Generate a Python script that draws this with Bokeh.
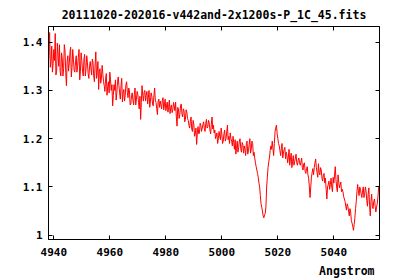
from bokeh.plotting import figure
from bokeh.models import Range1d, FixedTicker, LinearAxis, CustomJSTickFormatter, Title, ColumnDataSource
from bokeh.embed import file_html
from bokeh.resources import INLINE

title_text = "20111020-202016-v442and-2x1200s-P_1C_45.fits"
x_label = "Angstrom"
x_ticks = [4940, 4960, 4980, 5000, 5020, 5040]
y_ticks = [1.0, 1.1, 1.2, 1.3, 1.4]

# flux read at whole/half Angstrom samples (4938.0, 4938.5, ...)
wave_start = 4938.0
wave_step = 0.5
flux = [
    1.352, 1.42, 1.36, 1.338, 1.385, 1.418, 1.34, 1.372, 1.395, 1.33,
    1.368, 1.345, 1.382, 1.31, 1.372, 1.355, 1.39, 1.348, 1.365, 1.338,
    1.372, 1.35, 1.385, 1.34, 1.362, 1.33, 1.375, 1.345, 1.358, 1.325,
    1.36, 1.332, 1.358, 1.318, 1.38, 1.338, 1.302, 1.345, 1.325, 1.335,
    1.31, 1.325, 1.29, 1.318, 1.338, 1.3, 1.268, 1.312, 1.322, 1.295,
    1.328, 1.295, 1.31, 1.276, 1.302, 1.29, 1.318, 1.285, 1.3, 1.272,
    1.295, 1.27, 1.305, 1.282, 1.292, 1.262, 1.24, 1.31, 1.278, 1.3,
    1.29, 1.272, 1.3, 1.278, 1.288, 1.268, 1.305, 1.275, 1.25, 1.282,
    1.278, 1.262, 1.285, 1.27, 1.258, 1.276, 1.265, 1.252, 1.27, 1.26,
    1.268, 1.276, 1.226, 1.262, 1.25, 1.272, 1.245, 1.258, 1.24, 1.255,
    1.238, 1.222, 1.245, 1.215, 1.23, 1.21, 1.188, 1.225, 1.212, 1.228,
    1.222, 1.235, 1.215, 1.24, 1.225, 1.232, 1.21, 1.245, 1.228, 1.218,
    1.205, 1.19, 1.215, 1.198, 1.21, 1.195, 1.218, 1.2, 1.228, 1.205,
    1.212, 1.195, 1.205, 1.178, 1.168, 1.195, 1.182, 1.2, 1.172, 1.188,
    1.185, 1.165, 1.195, 1.175, 1.2, 1.178, 1.19, 1.172, 1.15, 1.135,
    1.12, 1.1, 1.065, 1.05, 1.036, 1.045, 1.1, 1.14, 1.16, 1.185,
    1.195, 1.165, 1.215, 1.228, 1.2, 1.185, 1.165, 1.19, 1.17, 1.182,
    1.172, 1.15, 1.178, 1.158, 1.14, 1.165, 1.152, 1.168, 1.145, 1.16,
    1.145, 1.16, 1.135, 1.15, 1.128, 1.142, 1.118, 1.078, 1.12, 1.138,
    1.14, 1.158, 1.13, 1.148, 1.125, 1.135, 1.112, 1.128, 1.118, 1.075,
    1.105, 1.095, 1.118, 1.09, 1.108, 1.142, 1.1, 1.125, 1.098, 1.11,
    1.095, 1.08, 1.07, 1.052, 1.06, 1.04, 1.048, 1.025, 1.01, 1.035,
    1.07, 1.105, 1.082, 1.095, 1.078, 1.1, 1.085, 1.092, 1.06, 1.098,
    1.04, 1.085, 1.055, 1.075, 1.048, 1.065, 1.1,
]
# flux read at the quarter samples between them (4938.25, 4938.75, ...)
flux_between = [
    1.372, 1.348, 1.392, 1.356, 1.362, 1.332, 1.398, 1.35, 1.34, 1.378,
    1.33, 1.395, 1.338, 1.36, 1.34, 1.378, 1.328, 1.385, 1.342, 1.36,
    1.338, 1.368, 1.322, 1.378, 1.34, 1.365, 1.33, 1.372, 1.335, 1.35,
    1.345, 1.365, 1.33, 1.355, 1.325, 1.36, 1.34, 1.315, 1.352, 1.318,
    1.298, 1.335, 1.308, 1.295, 1.322, 1.312, 1.29, 1.3, 1.28, 1.318,
    1.31, 1.282, 1.325, 1.295, 1.278, 1.312, 1.296, 1.305, 1.27, 1.29,
    1.28, 1.292, 1.27, 1.298, 1.275, 1.288, 1.275, 1.29, 1.296, 1.278,
    1.298, 1.285, 1.265, 1.295, 1.272, 1.29, 1.28, 1.262, 1.278, 1.265,
    1.27, 1.28, 1.26, 1.282, 1.268, 1.255, 1.28, 1.265, 1.254, 1.275,
    1.258, 1.245, 1.265, 1.242, 1.268, 1.252, 1.262, 1.235, 1.26, 1.242,
    1.228, 1.236, 1.22, 1.238, 1.205, 1.222, 1.212, 1.21, 1.232, 1.215,
    1.23, 1.22, 1.232, 1.222, 1.238, 1.218, 1.23, 1.22, 1.212, 1.2,
    1.212, 1.2, 1.205, 1.222, 1.19, 1.21, 1.195, 1.214, 1.198, 1.19,
    1.2, 1.185, 1.192, 1.198, 1.18, 1.172, 1.195, 1.18, 1.192, 1.17,
    1.178, 1.19, 1.168, 1.188, 1.17, 1.195, 1.165, 1.16, 1.142, 1.128,
    1.108, 1.082, 1.058, 1.04, 1.042, 1.06, 1.12, 1.152, 1.175, 1.178,
    1.18, 1.19, 1.222, 1.21, 1.19, 1.175, 1.18, 1.16, 1.178, 1.158,
    1.165, 1.162, 1.145, 1.17, 1.152, 1.145, 1.16, 1.15, 1.155, 1.15,
    1.152, 1.14, 1.148, 1.132, 1.138, 1.125, 1.1, 1.1, 1.13, 1.125,
    1.15, 1.14, 1.12, 1.13, 1.14, 1.118, 1.125, 1.108, 1.095, 1.1,
    1.112, 1.105, 1.1, 1.12, 1.125, 1.115, 1.09, 1.11, 1.105, 1.09,
    1.09, 1.075, 1.06, 1.065, 1.05, 1.055, 1.03, 1.018, 1.022, 1.055,
    1.09, 1.092, 1.1, 1.085, 1.092, 1.078, 1.1, 1.072, 1.085, 1.062,
    1.07, 1.06, 1.07, 1.06, 1.058, 1.08,
]

wavelength, spectrum = [], []
for i, f in enumerate(flux):
    wavelength.append(wave_start + wave_step * i)
    spectrum.append(f)
    if i < len(flux_between):
        wavelength.append(wave_start + wave_step * (i + 0.5))
        spectrum.append(flux_between[i])

FONT = "DejaVu Sans Mono"

x0, x1 = 4938.1, 5056.3
y0, y1 = 0.991, 1.4326

p = figure(width=400, height=280, output_backend="svg", toolbar_location=None,
           x_range=Range1d(x0, x1), y_range=Range1d(y0, y1),
           min_border_left=48, min_border_right=21, min_border_top=4, min_border_bottom=4)
p.background_fill_color = "white"
p.border_fill_color = "white"
p.grid.visible = False
p.outline_line_color = "black"
p.outline_line_width = 1

src = ColumnDataSource(dict(x=wavelength, y=spectrum))
p.line("x", "y", source=src, line_color="#ff0000", line_width=1)

fmt_y = CustomJSTickFormatter(code="return (Math.round(tick*10)/10).toString();")

def style_axis(ax, ticks, show_labels, standoff=5):
    ax.ticker = FixedTicker(ticks=ticks)
    ax.major_tick_in = 4
    ax.major_tick_out = 0
    ax.minor_tick_line_color = None
    ax.axis_line_color = "black"
    ax.major_tick_line_color = "black"
    ax.major_label_text_font = FONT
    ax.major_label_text_font_style = "bold"
    ax.major_label_text_font_size = "11px"
    ax.major_label_text_color = "black" if show_labels else None
    ax.major_label_standoff = standoff

style_axis(p.xaxis[0], x_ticks, True, standoff=8)
style_axis(p.yaxis[0], y_ticks, True, standoff=6)
p.yaxis[0].formatter = fmt_y

right_ax = LinearAxis()
style_axis(right_ax, y_ticks, False)
p.add_layout(right_ax, "right")

top_ax = LinearAxis()
style_axis(top_ax, x_ticks, False)
p.above.insert(0, top_ax)

p.title.text = title_text
p.title.align = "center"
p.title.text_font = FONT
p.title.text_font_style = "bold"
p.title.text_font_size = "11.5px"
p.title.text_color = "black"

xt = Title(text=x_label, align="right", offset=5, standoff=6, text_font=FONT,
           text_font_style="bold", text_font_size="11.5px", text_color="black")
p.add_layout(xt, "below")

open("out.html", "w").write(file_html(p, INLINE))
